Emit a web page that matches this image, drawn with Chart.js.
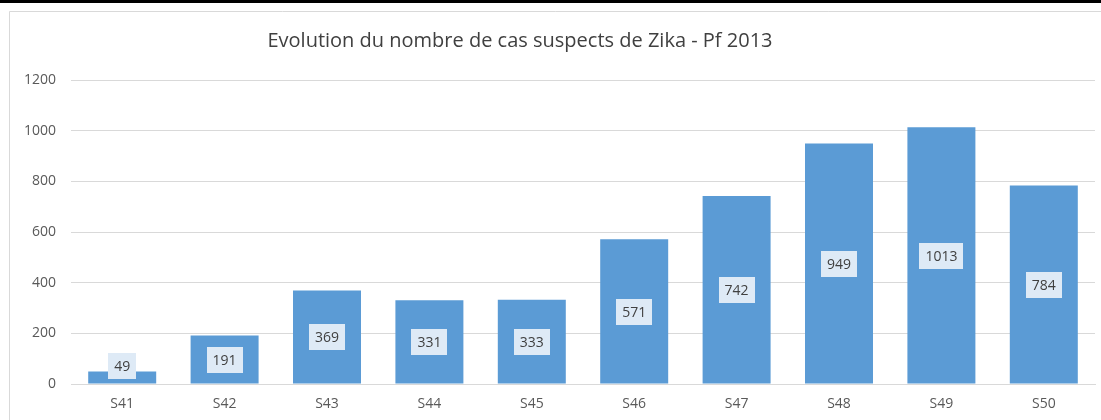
<!DOCTYPE html>
<html>
<head>
<meta charset="utf-8">
<script src="https://cdn.jsdelivr.net/npm/chart.js@4/dist/chart.umd.min.js"></script>
<style>
  html, body { margin: 0; padding: 0; background: #ffffff; }
  #wrap { position: relative; width: 1101px; height: 420px; }
</style>
</head>
<body>
<div id="wrap"><canvas id="c" width="1101" height="420"></canvas></div>
<script>
const chartTitle = "Evolution du nombre de cas suspects de Zika - Pf 2013";
const categories = ["S41", "S42", "S43", "S44", "S45", "S46", "S47", "S48", "S49", "S50"];
const cases = [49, 191, 369, 331, 333, 571, 742, 949, 1013, 784];
const yTicks = [0, 200, 400, 600, 800, 1000, 1200];

const FONT = "'Open Sans', 'Liberation Sans', sans-serif";

const framePlugin = {
  id: 'frame',
  beforeDraw(chart) {
    const ctx = chart.ctx;
    ctx.save();
    ctx.fillStyle = '#ffffff';
    ctx.fillRect(0, 0, chart.width, chart.height);
    ctx.fillStyle = '#000000';
    ctx.fillRect(0, 0, chart.width, 3);
    ctx.strokeStyle = '#d9d9d9';
    ctx.lineWidth = 1;
    ctx.beginPath();
    ctx.moveTo(9.5, chart.height);
    ctx.lineTo(9.5, 11.5);
    ctx.lineTo(chart.width, 11.5);
    ctx.stroke();
    ctx.fillStyle = '#404040';
    ctx.font = "20px " + FONT;
    ctx.textAlign = 'center';
    ctx.textBaseline = 'middle';
    ctx.fillText(chartTitle, 520, 41);
    ctx.restore();
  },
  afterDatasetsDraw(chart) {
    const ctx = chart.ctx;
    const meta = chart.getDatasetMeta(0);
    const base = chart.scales.y.getPixelForValue(0);
    ctx.save();
    ctx.font = "14px " + FONT;
    ctx.textAlign = 'center';
    ctx.textBaseline = 'middle';
    meta.data.forEach((bar, i) => {
      const txt = String(cases[i]);
      let cy = (bar.y + base) / 2;
      cy = Math.min(cy, base - 18);
      const w = ctx.measureText(txt).width + 12;
      const h = 26;
      ctx.fillStyle = '#deeaf6';
      ctx.fillRect(Math.round(bar.x - w / 2), Math.round(cy - h / 2), Math.round(w), h);
      ctx.fillStyle = '#404040';
      ctx.fillText(txt, bar.x, cy + 1);
    });
    ctx.restore();
  }
};

new Chart(document.getElementById('c'), {
  type: 'bar',
  data: {
    labels: categories,
    datasets: [{
      label: 'Cas suspects',
      data: cases,
      backgroundColor: '#5b9bd5',
      borderWidth: 0,
      categoryPercentage: 1,
      barPercentage: 0.664
    }]
  },
  options: {
    responsive: false,
    animation: false,
    events: [],
    layout: { padding: { left: 10, right: 6, top: 80, bottom: 0 } },
    plugins: {
      legend: { display: false },
      tooltip: { enabled: false },
      title: { display: false }
    },
    scales: {
      x: {
        grid: { display: false, drawTicks: false },
        border: { display: true, color: '#d9d9d9', width: 1 },
        ticks: { color: '#595959', font: { size: 14, family: FONT }, padding: 12 },
        afterFit(s) { s.height = 36; }
      },
      y: {
        min: 0,
        max: 1200,
        afterBuildTicks(s) { s.ticks = yTicks.map(v => ({ value: v })); },
        grid: { color: '#d9d9d9', drawTicks: false },
        border: { display: false },
        ticks: {
          color: '#595959',
          font: { size: 14, family: FONT },
          padding: 15,
          callback: (v) => String(v)
        },
        afterFit(s) { s.width = 61; }
      }
    }
  },
  plugins: [framePlugin]
});
</script>
</body>
</html>
